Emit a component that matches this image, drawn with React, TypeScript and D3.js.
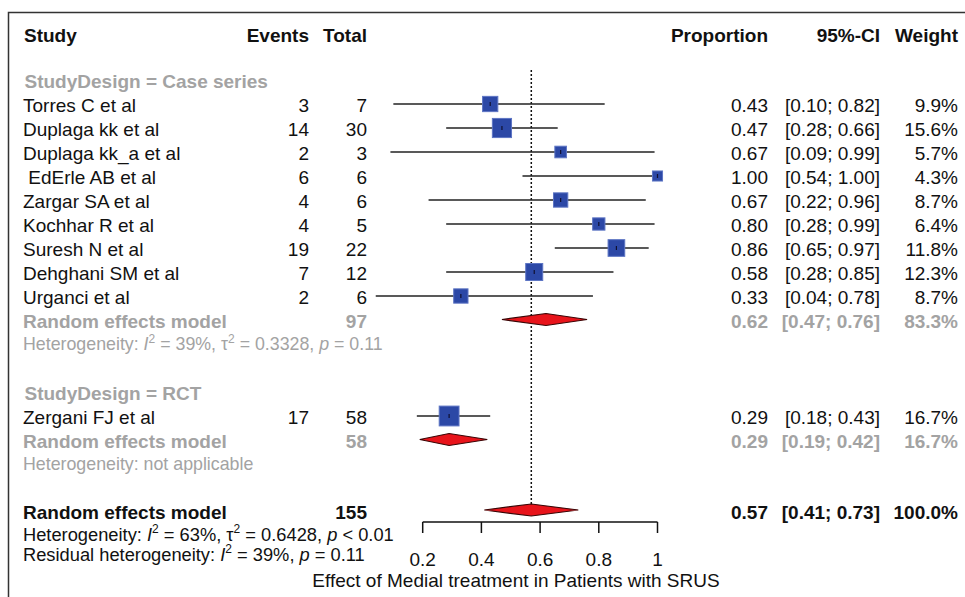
import React from "react";
import * as d3 from "d3";

const studies = ["Torres C et al", "Duplaga kk et al", "Duplaga kk_a et al", " EdErle AB et al", "Zargar SA et al", "Kochhar R et al", "Suresh N et al", "Dehghani SM et al", "Urganci et al", "Zergani FJ et al"];
const designs = ["Case series", "Case series", "Case series", "Case series", "Case series", "Case series", "Case series", "Case series", "Case series", "RCT"];
const events = [3, 14, 2, 6, 4, 4, 19, 7, 2, 17];
const totals = [7, 30, 3, 6, 6, 5, 22, 12, 6, 58];
const proportions = [0.43, 0.47, 0.67, 1.0, 0.67, 0.8, 0.86, 0.58, 0.33, 0.29];
const lowers = [0.1, 0.28, 0.09, 0.54, 0.22, 0.28, 0.65, 0.28, 0.04, 0.18];
const uppers = [0.82, 0.66, 0.99, 1.0, 0.96, 0.99, 0.97, 0.85, 0.78, 0.43];
const weights = [9.9, 15.6, 5.7, 4.3, 8.7, 6.4, 11.8, 12.3, 8.7, 16.7];

const groupNames = ["Case series", "RCT"];
const groupTotals = [97, 58];
const groupEst = [0.62, 0.29];
const groupLower = [0.47, 0.19];
const groupUpper = [0.76, 0.42];
const groupWeight = [83.3, 16.7];
const groupHet = [
  { I2: "39%", tau2: "0.3328", p: "= 0.11" },
  null,
];

const overallTotal = 155;
const overallEst = 0.57;
const overallLower = 0.41;
const overallUpper = 0.73;
const overallWeight = 100.0;
const overallHet = { I2: "63%", tau2: "0.6428", p: "< 0.01" };
const residualHet = { I2: "39%", p: "= 0.11" };

const ticks = [0.2, 0.4, 0.6, 0.8, 1];
const xLabel = "Effect of Medial treatment in Patients with SRUS";

const FONT = "'Liberation Sans', Arial, Helvetica, sans-serif";
const GRAY = "#a3a3a3";
const BLACK = "#111";
const FS = 19;
const HFS_GRAY = 17.8;
const HFS_BLACK = 18.3;

const x = d3.scaleLinear().domain([0, 1]).range([364, 657.5]);
const rowY = d3.scaleLinear().domain([0, 1]).range([33, 57]);
const side = d3.scaleSqrt().domain([0, 100]).range([0, 48.5]);

const fmt2 = d3.format(".2f");
const fmt1 = d3.format(".1f");

const COL_EVENTS = 309;
const COL_TOTAL = 367;
const COL_PROP = 768;
const COL_CI = 880;
const COL_W = 958;
const COL_STUDY = 23;

const SUP = 5.5;

function HetText({ y, color, parts, fs }: { y: number; color: string; parts: any[]; fs: number }) {
  const out: any[] = [];
  let raised = false;
  parts.forEach((p, k) => {
    if (typeof p === "string") {
      out.push(
        <tspan key={k} dy={raised ? SUP : 0}>
          {p}
        </tspan>
      );
      raised = false;
    } else if (p.i) {
      out.push(
        <tspan key={k} dy={raised ? SUP : 0} fontStyle="italic">
          {p.i}
        </tspan>
      );
      raised = false;
    } else if (p.s) {
      out.push(
        <tspan key={k} dy={-SUP} fontSize={12}>
          {p.s}
        </tspan>
      );
      raised = true;
    }
  });
  return (
    <text x={COL_STUDY} y={y} fill={color} fontSize={fs} dominantBaseline="central" style={{ whiteSpace: "pre" }}>
      {out}
    </text>
  );
}

function Diamond({ est, lo, hi, y }: { est: number; lo: number; hi: number; y: number }) {
  const h = 6;
  const d = `M${x(lo)},${y} L${x(est)},${y - h} L${x(hi)},${y} L${x(est)},${y + h} Z`;
  return <path d={d} fill="#e8141b" stroke="#3a0505" strokeWidth={1.2} />;
}

export default function App() {
  const elems: any[] = [];
  let row = 2;

  groupNames.forEach((g, gi) => {
    const labelY = rowY(row);
    elems.push(
      <text key={`gl${gi}`} x={COL_STUDY + 1.5} y={labelY} fill={GRAY} fontWeight="bold" fontSize={FS} dominantBaseline="central">
        {`StudyDesign = ${g}`}
      </text>
    );
    row++;
    studies.forEach((s, i) => {
      if (designs[i] !== g) return;
      const y = rowY(row);
      const sz = side(weights[i]);
      elems.push(
        <g key={`s${i}`}>
          <text x={COL_STUDY} y={y} fill={BLACK} fontSize={FS} dominantBaseline="central" style={{ whiteSpace: "pre" }}>
            {s}
          </text>
          <text x={COL_EVENTS} y={y} fill={BLACK} fontSize={FS} textAnchor="end" dominantBaseline="central">
            {events[i]}
          </text>
          <text x={COL_TOTAL} y={y} fill={BLACK} fontSize={FS} textAnchor="end" dominantBaseline="central">
            {totals[i]}
          </text>
          <line x1={x(lowers[i])} x2={x(uppers[i])} y1={y - 1} y2={y - 1} stroke="#222" strokeWidth={1.6} />
          <rect x={x(proportions[i]) - sz / 2} y={y - 1 - sz / 2} width={sz} height={sz} fill="#2c48a6" stroke="#5d75c4" strokeWidth={1} />
          <line x1={x(proportions[i])} x2={x(proportions[i])} y1={y - 3} y2={y + 1} stroke="#101030" strokeWidth={1.2} />
          <text x={COL_PROP} y={y} fill={BLACK} fontSize={FS} textAnchor="end" dominantBaseline="central">
            {fmt2(proportions[i])}
          </text>
          <text x={COL_CI} y={y} fill={BLACK} fontSize={FS} textAnchor="end" dominantBaseline="central" style={{ whiteSpace: "pre" }}>
            {`[${fmt2(lowers[i])}; ${fmt2(uppers[i])}]`}
          </text>
          <text x={COL_W} y={y} fill={BLACK} fontSize={FS} textAnchor="end" dominantBaseline="central">
            {`${fmt1(weights[i])}%`}
          </text>
        </g>
      );
      row++;
    });
    const ry = rowY(row);
    elems.push(
      <g key={`gr${gi}`}>
        <text x={COL_STUDY} y={ry} fill={GRAY} fontWeight="bold" fontSize={FS} dominantBaseline="central">
          Random effects model
        </text>
        <text x={COL_TOTAL} y={ry} fill={GRAY} fontWeight="bold" fontSize={FS} textAnchor="end" dominantBaseline="central">
          {groupTotals[gi]}
        </text>
        <Diamond est={groupEst[gi]} lo={groupLower[gi]} hi={groupUpper[gi]} y={ry - 1.5} />
        <text x={COL_PROP} y={ry} fill={GRAY} fontWeight="bold" fontSize={FS} textAnchor="end" dominantBaseline="central">
          {fmt2(groupEst[gi])}
        </text>
        <text x={COL_CI} y={ry} fill={GRAY} fontWeight="bold" fontSize={FS} textAnchor="end" dominantBaseline="central" style={{ whiteSpace: "pre" }}>
          {`[${fmt2(groupLower[gi])}; ${fmt2(groupUpper[gi])}]`}
        </text>
        <text x={COL_W} y={ry} fill={GRAY} fontWeight="bold" fontSize={FS} textAnchor="end" dominantBaseline="central">
          {`${fmt1(groupWeight[gi])}%`}
        </text>
      </g>
    );
    row++;
    const het = groupHet[gi];
    const hy = rowY(row) - 1;
    if (het) {
      elems.push(
        <HetText
          key={`gh${gi}`}
          y={hy}
          fs={HFS_GRAY}
          color={GRAY}
          parts={["Heterogeneity: ", { i: "I" }, { s: "2" }, ` = ${het.I2}, τ`, { s: "2" }, ` = ${het.tau2}, `, { i: "p" }, ` ${het.p}`]}
        />
      );
    } else {
      elems.push(<HetText key={`gh${gi}`} y={hy} fs={HFS_GRAY} color={GRAY} parts={["Heterogeneity: not applicable"]} />);
    }
    row += 2;
  });

  const oy = rowY(row) - 1;
  const refTop = 70;

  return (
    <svg width={965} height={597} style={{ position: "absolute", left: 0, top: 0, background: "#fff" }} fontFamily={FONT}>
      <rect x={0} y={0} width={965} height={597} fill="#fff" />
      <path d="M8.5,597 L8.5,12.5 L965,12.5" fill="none" stroke="#333" strokeWidth={1.5} />

      <text x={COL_STUDY + 1} y={35} fontWeight="bold" fontSize={FS} fill={BLACK} dominantBaseline="central">Study</text>
      <text x={COL_EVENTS} y={35} fontWeight="bold" fontSize={FS} fill={BLACK} textAnchor="end" dominantBaseline="central">Events</text>
      <text x={COL_TOTAL} y={35} fontWeight="bold" fontSize={FS} fill={BLACK} textAnchor="end" dominantBaseline="central">Total</text>
      <text x={COL_PROP} y={35} fontWeight="bold" fontSize={FS} fill={BLACK} textAnchor="end" dominantBaseline="central">Proportion</text>
      <text x={COL_CI} y={35} fontWeight="bold" fontSize={FS} fill={BLACK} textAnchor="end" dominantBaseline="central">95%-CI</text>
      <text x={COL_W} y={35} fontWeight="bold" fontSize={FS} fill={BLACK} textAnchor="end" dominantBaseline="central">Weight</text>

      <line x1={x(overallEst)} x2={x(overallEst)} y1={refTop} y2={oy - 4} stroke="#111" strokeWidth={1.5} strokeDasharray="2,2" />

      {elems}

      <text x={COL_STUDY} y={oy} fill={BLACK} fontWeight="bold" fontSize={FS} dominantBaseline="central">Random effects model</text>
      <text x={COL_TOTAL} y={oy} fill={BLACK} fontWeight="bold" fontSize={FS} textAnchor="end" dominantBaseline="central">{overallTotal}</text>
      <Diamond est={overallEst} lo={overallLower} hi={overallUpper} y={oy - 2} />
      <text x={COL_PROP} y={oy} fill={BLACK} fontWeight="bold" fontSize={FS} textAnchor="end" dominantBaseline="central">{fmt2(overallEst)}</text>
      <text x={COL_CI} y={oy} fill={BLACK} fontWeight="bold" fontSize={FS} textAnchor="end" dominantBaseline="central" style={{ whiteSpace: "pre" }}>
        {`[${fmt2(overallLower)}; ${fmt2(overallUpper)}]`}
      </text>
      <text x={COL_W} y={oy} fill={BLACK} fontWeight="bold" fontSize={FS} textAnchor="end" dominantBaseline="central">{`${fmt1(overallWeight)}%`}</text>
      <HetText
        y={oy + 22}
        fs={HFS_BLACK}
        color={BLACK}
        parts={["Heterogeneity: ", { i: "I" }, { s: "2" }, ` = ${overallHet.I2}, τ`, { s: "2" }, ` = ${overallHet.tau2}, `, { i: "p" }, ` ${overallHet.p}`]}
      />
      <HetText
        y={oy + 42}
        fs={HFS_BLACK}
        color={BLACK}
        parts={["Residual heterogeneity: ", { i: "I" }, { s: "2" }, ` = ${residualHet.I2}, `, { i: "p" }, ` ${residualHet.p}`]}
      />

      <g>
        <line x1={x(ticks[0])} x2={x(ticks[ticks.length - 1])} y1={522} y2={522} stroke="#111" strokeWidth={1.5} />
        {ticks.map((t) => (
          <g key={t}>
            <line x1={x(t)} x2={x(t)} y1={522} y2={533} stroke="#111" strokeWidth={1.5} />
            <text x={x(t)} y={559} fontSize={FS} fill={BLACK} textAnchor="middle" dominantBaseline="central">
              {String(t)}
            </text>
          </g>
        ))}
        <text x={516} y={580} fontSize={FS} fill={BLACK} textAnchor="middle" dominantBaseline="central">
          {xLabel}
        </text>
      </g>
    </svg>
  );
}
